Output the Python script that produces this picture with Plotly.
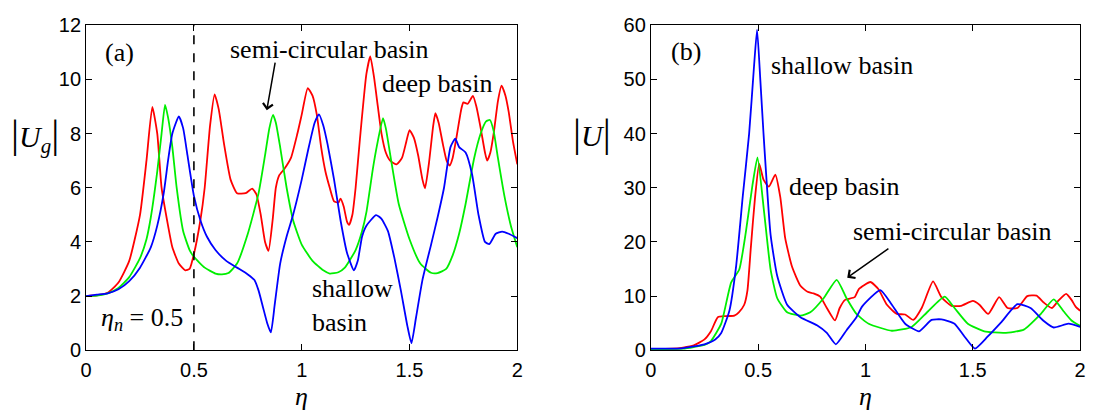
import plotly.graph_objects as go

# ---------------- data: panel (a) |Ug| ----------------
a_red_x = [0, 0.05, 0.1, 0.15, 0.2, 0.25, 0.28, 0.307, 0.33, 0.35, 0.38, 0.4, 0.43, 0.46, 0.48, 0.5, 0.53, 0.55,
           0.575, 0.596, 0.615, 0.64, 0.67, 0.7, 0.74, 0.77, 0.79, 0.81, 0.83, 0.846, 0.865, 0.88, 0.895, 0.92,
           0.95, 0.98, 1.0, 1.028, 1.05, 1.07, 1.09, 1.11, 1.13, 1.15, 1.17, 1.18, 1.195, 1.21, 1.22, 1.235, 1.25,
           1.27, 1.3, 1.318, 1.335, 1.353, 1.37, 1.39, 1.41, 1.44, 1.465, 1.485, 1.5, 1.52, 1.54, 1.56, 1.572,
           1.59, 1.61, 1.62, 1.635, 1.655, 1.672, 1.686, 1.7, 1.718, 1.74, 1.75, 1.77, 1.794, 1.81, 1.83, 1.85,
           1.86, 1.875, 1.892, 1.91, 1.927, 1.945, 1.96, 1.98, 2.0]
a_red_y = [2.0, 2.03, 2.12, 2.5, 3.3, 5.0, 7.0, 8.98, 8.0, 6.0, 4.6, 3.8, 3.2, 2.95, 3.0, 3.55, 4.8, 6.0,
           8.3, 9.45, 8.9, 7.6, 6.3, 5.8, 5.8, 5.97, 5.75, 5.0, 4.0, 3.67, 4.8, 6.0, 6.45, 6.7,
           7.1, 8.0, 8.7, 9.68, 9.4, 8.7, 7.5, 6.6, 6.0, 5.5, 5.45, 5.6, 5.3, 4.75, 4.63, 5.0, 6.0,
           7.8, 10.2, 10.85, 10.1, 9.0, 8.0, 7.3, 7.0, 6.86, 7.1, 7.7, 8.13, 7.85, 7.2, 6.3, 5.98,
           6.9, 8.3, 8.75, 8.4, 7.6, 7.0, 6.82, 7.1, 7.87, 8.9, 9.15, 9.1, 9.39, 9.0, 8.2, 7.3,
           7.0, 7.3, 8.1, 9.2, 9.77, 9.4, 8.8, 7.7, 6.86]

a_green_x = [0, 0.05, 0.1, 0.15, 0.2, 0.25, 0.28, 0.3, 0.33, 0.35, 0.366, 0.38, 0.4, 0.42, 0.45, 0.48, 0.5,
             0.55, 0.6, 0.63, 0.66, 0.7, 0.75, 0.8, 0.83, 0.85, 0.867, 0.88, 0.9, 0.93, 0.96, 1.0, 1.05, 1.1,
             1.13, 1.17, 1.2, 1.25, 1.28, 1.3, 1.33, 1.35, 1.377, 1.39, 1.415, 1.45, 1.5, 1.55, 1.6, 1.63,
             1.67, 1.7, 1.73, 1.76, 1.8, 1.83, 1.855, 1.873, 1.89, 1.91, 1.94, 1.97, 2.0]
a_green_y = [2.0, 2.02, 2.1, 2.3, 2.7, 3.4, 4.1, 4.9, 6.6, 8.0, 9.06, 8.6, 7.5, 6.0, 4.4, 3.7, 3.45,
             3.05, 2.83, 2.8, 2.85, 3.2, 4.3, 5.8, 7.2, 8.2, 8.69, 8.4, 7.5, 6.0, 4.8, 3.9, 3.3, 2.95,
             2.83, 2.88, 3.05, 3.7, 4.4, 5.1, 6.7, 7.6, 8.57, 8.2, 7.0, 5.4, 4.1, 3.2, 2.86, 2.85,
             3.0, 3.5, 4.3, 5.4, 7.1, 8.0, 8.45, 8.5, 8.1, 7.1, 5.7, 4.6, 3.8]

a_blue_x = [0, 0.05, 0.1, 0.15, 0.2, 0.25, 0.3, 0.33, 0.36, 0.38, 0.4, 0.43, 0.45, 0.47, 0.5, 0.53, 0.56,
            0.6, 0.65, 0.7, 0.75, 0.78, 0.8, 0.82, 0.84, 0.857, 0.875, 0.9, 0.93, 0.96, 1.0, 1.03, 1.06, 1.08,
            1.1, 1.12, 1.15, 1.18, 1.21, 1.242, 1.26, 1.28, 1.3, 1.345, 1.37, 1.4, 1.43, 1.46, 1.49, 1.509,
            1.53, 1.56, 1.6, 1.63, 1.66, 1.69, 1.712, 1.73, 1.76, 1.79, 1.82, 1.85, 1.87, 1.9, 1.93, 1.96, 2.0]
a_blue_y = [2.0, 2.05, 2.1, 2.25, 2.55, 3.05, 3.8, 4.6, 5.8, 7.0, 8.0, 8.63, 8.2, 7.2, 5.7, 4.8, 4.2,
            3.7, 3.3, 3.05, 2.8, 2.6, 2.2, 1.6, 1.0, 0.66, 1.7, 3.2, 4.2, 5.0, 6.3, 7.4, 8.4, 8.71,
            8.3, 7.6, 6.3, 4.8, 3.6, 2.95, 3.3, 4.2, 4.6, 4.99, 4.85, 4.4, 3.4, 2.2, 0.9, 0.26,
            1.2, 2.6, 3.9, 4.9, 6.0, 7.5, 7.81, 7.5, 7.3, 6.5, 5.0, 4.0, 3.92, 4.3, 4.38, 4.3, 4.14]

# ---------------- data: panel (b) |U| ----------------
b_red_x = [0, 0.1, 0.15, 0.2, 0.25, 0.28, 0.312, 0.35, 0.389, 0.41, 0.435, 0.45, 0.466, 0.485, 0.505, 0.525,
           0.55, 0.58, 0.603, 0.626, 0.658, 0.697, 0.73, 0.758, 0.789, 0.82, 0.858, 0.88, 0.905, 0.95, 0.969,
           1.023, 1.06, 1.1, 1.146, 1.185, 1.223, 1.262, 1.315, 1.354, 1.4, 1.446, 1.5, 1.531, 1.572, 1.623,
           1.662, 1.708, 1.754, 1.797, 1.831, 1.869, 1.9, 1.935, 1.96, 1.98, 2.0]
b_red_y = [0.2, 0.3, 0.5, 0.9, 2.0, 3.5, 6.1, 6.3, 6.4, 7.0, 8.4, 11.0, 19.0, 28.0, 34.4, 31.5,
           30.2, 32.4, 28.3, 20.7, 15.4, 11.9, 10.8, 10.5, 9.9, 7.8, 5.5, 7.8, 9.3, 9.8, 11.3,
           12.6, 11.3, 8.4, 6.7, 6.6, 5.6, 7.8, 12.7, 9.8, 8.2, 8.2, 9.1, 8.4, 6.7, 9.8,
           7.8, 7.8, 10.0, 10.1, 8.8, 7.8, 9.2, 10.4, 9.3, 8.0, 7.3]

b_green_x = [0, 0.15, 0.2, 0.25, 0.28, 0.328, 0.374, 0.412, 0.443, 0.474, 0.497, 0.528, 0.558, 0.589, 0.635,
             0.697, 0.743, 0.805, 0.866, 0.912, 0.958, 1.015, 1.123, 1.215, 1.292, 1.369, 1.415, 1.477, 1.554,
             1.646, 1.738, 1.815, 1.877, 1.923, 1.96, 2.0]
b_green_y = [0.2, 0.3, 0.6, 1.0, 1.7, 4.9, 12.5, 14.9, 21.9, 30.6, 35.6, 25.4, 14.9, 9.6, 7.0,
             6.4, 7.0, 9.6, 13.0, 9.6, 6.7, 4.9, 3.6, 4.3, 7.2, 9.9, 7.8, 4.9, 3.5,
             3.2, 3.8, 6.6, 9.4, 7.2, 5.5, 4.5]

b_blue_x = [0, 0.143, 0.2, 0.25, 0.3, 0.328, 0.366, 0.397, 0.428, 0.458, 0.48, 0.495, 0.51, 0.525, 0.558,
            0.589, 0.635, 0.697, 0.774, 0.82, 0.862, 0.912, 0.958, 0.985, 1.069, 1.123, 1.185, 1.25, 1.308,
            1.354, 1.415, 1.462, 1.51, 1.569, 1.631, 1.708, 1.769, 1.831, 1.877, 1.946, 2.0]
b_blue_y = [0.3, 0.35, 0.7, 1.1, 2.0, 3.2, 7.3, 15.4, 28.3, 40.0, 52.0, 59.2, 50.0, 40.0, 21.3,
            13.7, 8.4, 6.1, 4.6, 3.2, 1.1, 3.7, 6.1, 8.1, 11.1, 8.4, 4.9, 3.5, 5.6,
            5.7, 4.9, 2.5, 0.3, 2.5, 5.1, 8.5, 7.8, 5.4, 4.2, 4.9, 4.3]

eta_n = 0.5
x_ticks = [0, 0.5, 1, 1.5, 2]
x_tick_text = ["0", "0.5", "1", "1.5", "2"]
ya_ticks = [0, 2, 4, 6, 8, 10, 12]
yb_ticks = [0, 10, 20, 30, 40, 50, 60]

RED, GREEN, BLUE = "#ff0000", "#00ee00", "#0000ff"
SERIF = "Liberation Serif, Times New Roman, serif"
SANS = "Liberation Sans, Arial, sans-serif"

fig = go.Figure()
lw = 1.8
for xs, ys, c, xa, ya in [
    (a_red_x, a_red_y, RED, "x", "y"),
    (a_green_x, a_green_y, GREEN, "x", "y"),
    (a_blue_x, a_blue_y, BLUE, "x", "y"),
    (b_red_x, b_red_y, RED, "x2", "y2"),
    (b_green_x, b_green_y, GREEN, "x2", "y2"),
    (b_blue_x, b_blue_y, BLUE, "x2", "y2"),
]:
    fig.add_trace(go.Scatter(x=xs, y=ys, mode="lines", xaxis=xa, yaxis=ya,
                             line=dict(color=c, width=lw, shape="spline", smoothing=0.5),
                             showlegend=False, hoverinfo="skip"))

axis_common = dict(showline=True, linecolor="black", linewidth=1, mirror="ticks", ticks="inside",
                   ticklen=6, tickcolor="black", showgrid=False, zeroline=False,
                   tickfont=dict(family=SANS, size=20, color="black"))

ydom = [1 - 358 / 420, 1 - 15 / 420]
fig.update_layout(
    width=1093, height=420, margin=dict(l=0, r=0, t=0, b=0),
    paper_bgcolor="white", plot_bgcolor="white",
    xaxis=dict(domain=[81 / 1093, 517 / 1093], range=[0, 2], tickvals=x_ticks, ticktext=x_tick_text,
               anchor="y", ticklabelstandoff=2, **axis_common),
    yaxis=dict(domain=ydom, range=[0, 12], tickvals=ya_ticks, anchor="x", **axis_common),
    xaxis2=dict(domain=[652 / 1093, 1086 / 1093], range=[0, 2], tickvals=x_ticks, ticktext=x_tick_text,
                anchor="y2", ticklabelstandoff=2, **axis_common),
    yaxis2=dict(domain=ydom, range=[0, 60], tickvals=yb_ticks, anchor="x2", **axis_common),
)

# dashed line at eta_n
fig.add_shape(type="line", xref="x", yref="y domain", x0=eta_n, x1=eta_n, y0=0, y1=1,
              line=dict(color="black", width=1.6, dash="dash"))

tf = dict(family=SERIF, size=26, color="black")
ann = []
C = dict(showarrow=False, xanchor="center", yanchor="middle")
# panel (a)
ann.append(dict(xref="x", yref="y", x=0.155, y=11.0, text="(a)", font=tf, **C))
ann.append(dict(xref="x", yref="y", x=1.127, y=11.1, text="semi-circular basin", font=tf, **C))
ann.append(dict(xref="x", yref="y", x=1.626, y=9.85, text="deep basin", font=tf, **C))
ann.append(dict(xref="x", yref="y", x=1.04, y=1.65, text="shallow<br>basin", font=tf,
                showarrow=False, xanchor="left", yanchor="middle", align="left"))
ann.append(dict(xref="x", yref="y", x=0.26, y=1.17, text="<i>η</i><sub><i>n</i></sub> = 0.5", font=tf, **C))
ann.append(dict(xref="x", yref="y", axref="x", ayref="y", x=0.838, y=8.86, ax=0.878, ay=10.67, text="",
                showarrow=True, arrowhead=4, arrowsize=1.3, arrowwidth=1.5, arrowcolor="black"))
# panel (b)
ann.append(dict(xref="x2", yref="y2", x=0.164, y=55.1, text="(b)", font=tf, **C))
ann.append(dict(xref="x2", yref="y2", x=0.89, y=52.5, text="shallow basin", font=tf, **C))
ann.append(dict(xref="x2", yref="y2", x=0.90, y=30.3, text="deep basin", font=tf, **C))
ann.append(dict(xref="x2", yref="y2", x=1.405, y=21.9, text="semi-circular basin", font=tf, **C))
ann.append(dict(xref="x2", yref="y2", axref="x2", ayref="y2", x=0.915, y=13.4, ax=1.114, ay=18.95, text="",
                showarrow=True, arrowhead=4, arrowsize=1.3, arrowwidth=1.5, arrowcolor="black"))
# axis titles
bar = "<span style='font-size:40px'>|</span>"
tt = dict(family=SERIF, size=30, color="black")
ann.append(dict(xref="paper", yref="paper", x=29 / 1093, y=1 - 130 / 420,
                text=bar + "<i>U</i><sub><i>g</i></sub>" + bar, font=tt, **C))
ann.append(dict(xref="paper", yref="paper", x=592 / 1093, y=1 - 128 / 420,
                text=bar + "<i>U</i>" + bar, font=tt, **C))
ann.append(dict(xref="x", yref="paper", x=1.0, y=1 - 407 / 420, text="<i>η</i>",
                font=dict(family=SERIF, size=26, color="black"), **C))
ann.append(dict(xref="x2", yref="paper", x=1.0, y=1 - 407 / 420, text="<i>η</i>",
                font=dict(family=SERIF, size=26, color="black"), **C))
fig.update_layout(annotations=ann)

fig.write_html("out.html")
